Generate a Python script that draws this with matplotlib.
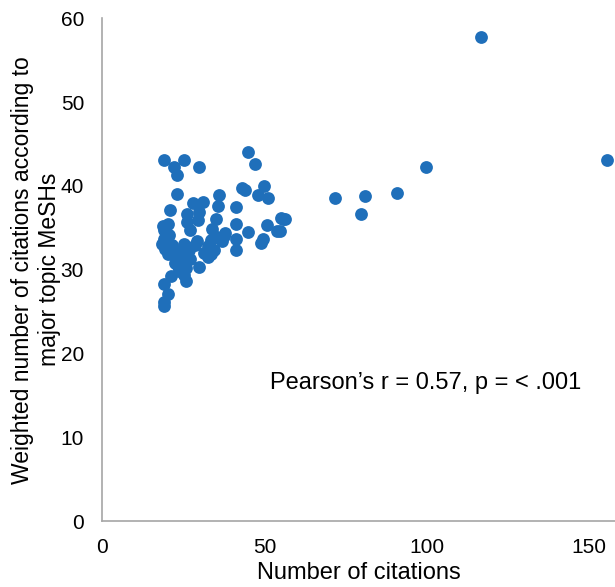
import matplotlib
matplotlib.use("Agg")
import matplotlib.pyplot as plt

plt.rcParams["font.family"] = ["Liberation Sans", "DejaVu Sans"]

# citations vs weighted citations
citations = [
    155.4, 116.7, 99.7, 90.7, 80.9, 79.8, 71.8, 55.7, 56.3, 54.7,
    19.2, 25.1, 22.0, 23.1, 30.0, 44.9, 47.0, 23.1, 44.0, 49.9,
    48.0, 51.1, 35.9, 31.0, 27.9, 35.6, 41.1, 21.0, 26.2, 30.0,
    29.4, 35.1, 55.2, 26.2, 20.2, 41.1, 50.9, 27.2, 33.9, 19.2,
    38.0, 45.1, 54.0, 20.7, 35.4, 41.1, 49.5, 48.8, 19.2, 29.2,
    33.4, 25.3, 18.6, 37.0, 32.5, 41.1, 34.6, 20.7, 22.2, 26.9,
    24.8, 20.2, 33.5, 32.5, 27.2, 23.3, 25.6, 23.3, 30.0, 25.9,
    23.8, 21.2, 25.3, 25.9, 19.2, 20.2, 19.2, 19.2, 18.8, 19.5,
    21.5, 24.0, 22.5, 28.5, 31.5, 37.5, 43.0,
]
weighted = [
    43.1, 57.8, 42.2, 39.2, 38.8, 36.7, 38.5, 36.1, 36.0, 34.6,
    43.1, 43.1, 42.3, 41.3, 42.2, 44.0, 42.6, 39.0, 39.5, 40.0,
    38.9, 38.6, 38.9, 38.1, 38.0, 37.6, 37.5, 37.1, 36.6, 36.9,
    35.9, 36.1, 36.2, 35.7, 35.5, 35.4, 35.3, 34.7, 34.8, 34.7,
    34.4, 34.5, 34.6, 34.1, 33.9, 33.7, 33.7, 33.2, 33.7, 33.4,
    33.5, 33.1, 33.1, 33.4, 32.8, 32.3, 32.3, 32.7, 32.3, 32.3,
    31.9, 31.9, 31.9, 31.5, 31.3, 31.3, 30.9, 30.5, 30.3, 30.2,
    29.8, 29.2, 29.4, 28.6, 28.3, 27.1, 26.1, 25.7, 35.2, 32.5,
    33.0, 32.0, 30.8, 32.9, 32.0, 34.0, 39.7,
]

fig = plt.figure(figsize=(6.15, 5.87), dpi=100)
ax = fig.add_axes([0.166, 0.112, 0.834, 0.857])
ax.scatter(citations, weighted, s=85, color="#1f6fba", linewidths=0, zorder=3)

ax.set_xlim(0, 158)
ax.set_ylim(0, 60)
ax.set_xticks([0, 50, 100, 150])
ax.set_yticks(range(0, 61, 10))
ax.tick_params(length=0, labelsize=15)
ax.tick_params(axis="x", pad=12)
ax.tick_params(axis="y", pad=13)
for s in ("top", "right"):
    ax.spines[s].set_visible(False)
for s in ("left", "bottom"):
    ax.spines[s].set_color("#a6a6a6")
    ax.spines[s].set_linewidth(1.2)

ax.set_xlabel("Number of citations", fontsize=17, labelpad=4)
ax.set_ylabel("Weighted number of citations according to\nmajor topic MeSHs",
              fontsize=16.5, labelpad=0)
ax.text(51.6, 16.5, "Pearson\u2019s r = 0.57, p = < .001", fontsize=17,
        va="center", ha="left")

fig.savefig("out.png", dpi=100)
